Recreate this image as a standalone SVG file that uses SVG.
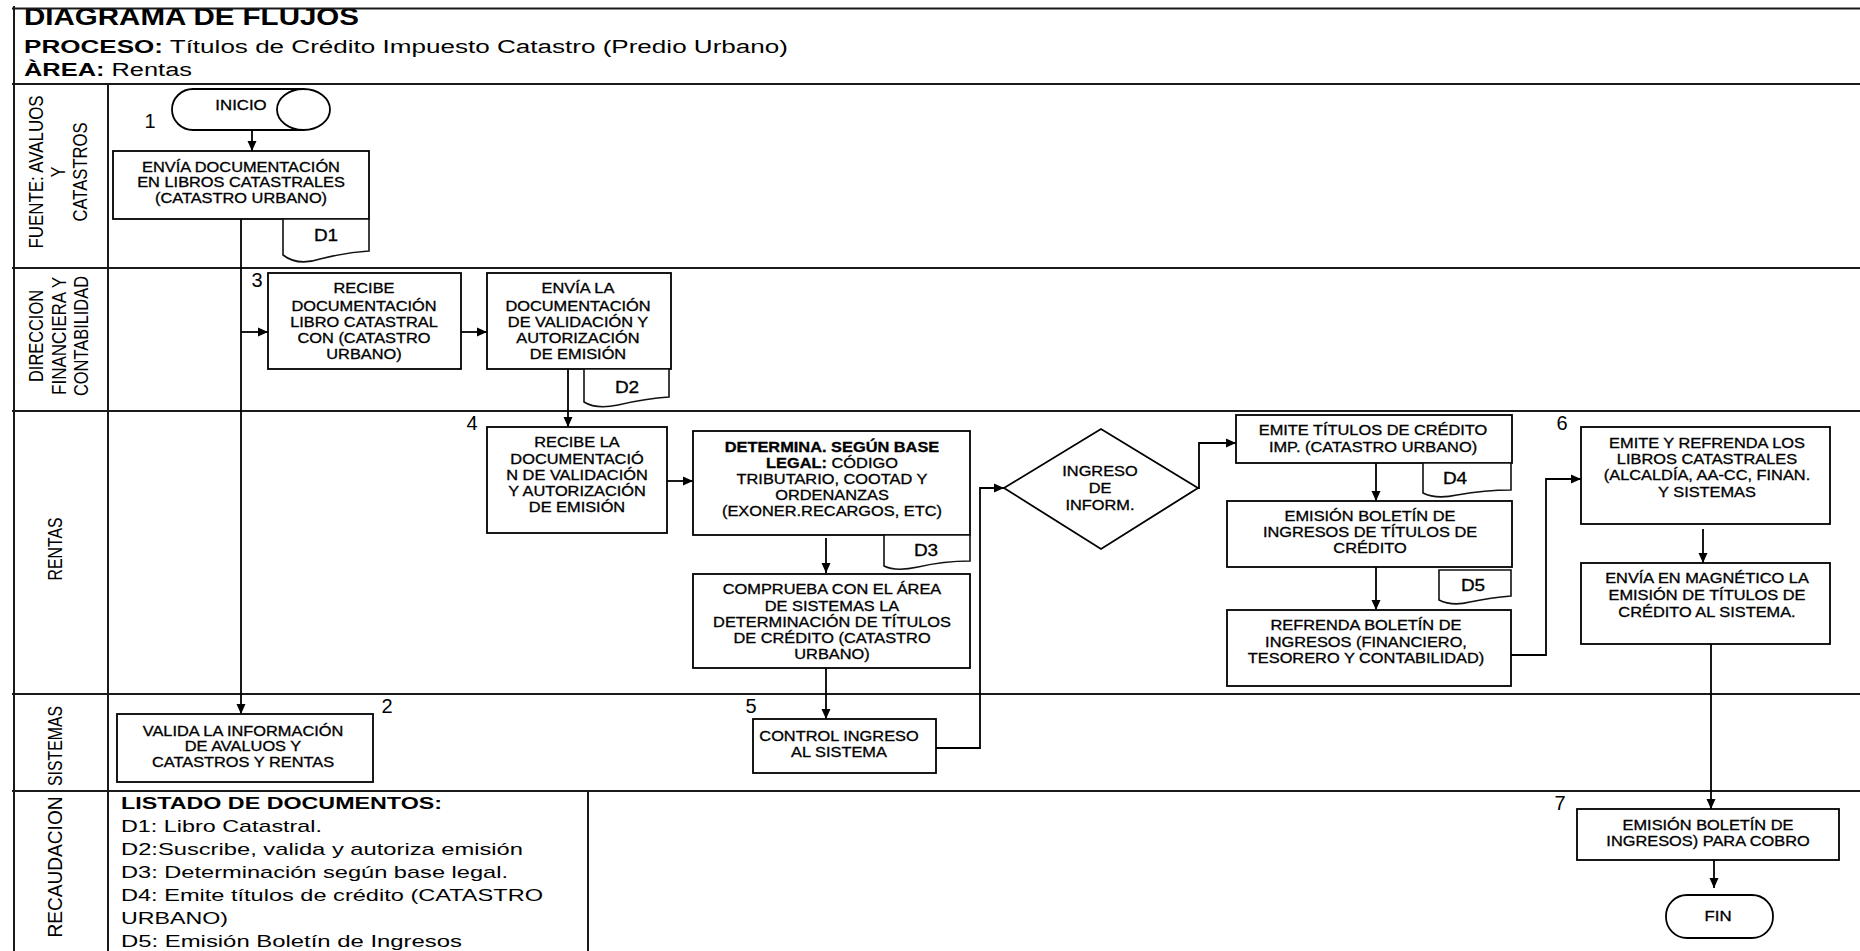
<svg xmlns="http://www.w3.org/2000/svg" width="1860" height="951" viewBox="0 0 1860 951">
  <defs>
    <style>
      text { font-family: "Liberation Sans", Arial, sans-serif; fill: #000; }
      .frame { stroke: #1a1a1a; stroke-width: 2; fill: none; }
      .box { fill: #fff; stroke: #000; stroke-width: 1.8; }
      .doc { fill: #fff; stroke: #111; stroke-width: 1.6; }
      .lbl { font-size: 14px; text-anchor: middle; stroke: #000; stroke-width: 0.3; }
      .dl { font-size: 16.5px; text-anchor: middle; stroke: #000; stroke-width: 0.3; }
      .num { font-size: 20px; text-anchor: middle; }
      .lane { font-size: 16px; text-anchor: middle; }
      .head { font-size: 18px; }
      .list { font-size: 17px; }
      .conn { fill: none; stroke: #000; stroke-width: 1.8; marker-end: url(#ah); }
      .b { font-weight: bold; }
    </style>
    <marker id="ah" markerUnits="userSpaceOnUse" markerWidth="11" markerHeight="10" refX="10" refY="5" orient="auto">
      <path d="M0,0.5 L10,5 L0,9.5 Z" fill="#000"/>
    </marker>
  </defs>

  <rect width="1860" height="951" fill="#fff"/>

  <!-- header -->
  <g id="header">
    <text x="24" y="24.5" font-size="23" font-weight="bold" textLength="335" lengthAdjust="spacingAndGlyphs">DIAGRAMA DE FLUJOS</text>
    <text class="head" x="24" y="53" textLength="764" lengthAdjust="spacingAndGlyphs"><tspan class="b">PROCESO:</tspan> Títulos  de Crédito Impuesto Catastro (Predio Urbano)</text>
    <text class="head" x="24" y="76" textLength="168" lengthAdjust="spacingAndGlyphs"><tspan class="b">ÀREA:</tspan> Rentas</text>
  </g>

  <!-- swimlane frame -->
  <g id="frame">
    <line class="frame" x1="12" y1="8.5" x2="1860" y2="8.5" stroke-width="5"/>
    <line class="frame" x1="14" y1="6" x2="14" y2="951" stroke-width="4"/>
    <line class="frame" x1="12" y1="84" x2="1860" y2="84"/>
    <line class="frame" x1="12" y1="268" x2="1860" y2="268"/>
    <line class="frame" x1="12" y1="411" x2="1860" y2="411"/>
    <line class="frame" x1="12" y1="694" x2="1860" y2="694"/>
    <line class="frame" x1="12" y1="791" x2="1860" y2="791"/>
    <line class="frame" x1="108" y1="84" x2="108" y2="951"/>
    <line class="frame" x1="588" y1="791" x2="588" y2="951"/>
  </g>

  <!-- lane titles -->
  <g id="lanes">
    <g transform="translate(43 172) rotate(-90) scale(1 1.27)"><text class="lane" textLength="153" lengthAdjust="spacingAndGlyphs">FUENTE: AVALUOS</text></g>
    <g transform="translate(65 172) rotate(-90) scale(1 1.27)"><text class="lane">Y</text></g>
    <g transform="translate(87 172) rotate(-90) scale(1 1.27)"><text class="lane" textLength="99" lengthAdjust="spacingAndGlyphs">CATASTROS</text></g>
    <g transform="translate(43 336) rotate(-90) scale(1 1.27)"><text class="lane" textLength="92" lengthAdjust="spacingAndGlyphs">DIRECCION</text></g>
    <g transform="translate(66 336) rotate(-90) scale(1 1.27)"><text class="lane" textLength="118" lengthAdjust="spacingAndGlyphs">FINANCIERA Y</text></g>
    <g transform="translate(88 336) rotate(-90) scale(1 1.27)"><text class="lane" textLength="120" lengthAdjust="spacingAndGlyphs">CONTABILIDAD</text></g>
    <g transform="translate(62 549) rotate(-90) scale(1 1.27)"><text class="lane" textLength="63" lengthAdjust="spacingAndGlyphs">RENTAS</text></g>
    <g transform="translate(62 746) rotate(-90) scale(1 1.27)"><text class="lane" textLength="80" lengthAdjust="spacingAndGlyphs">SISTEMAS</text></g>
    <g transform="translate(62 867) rotate(-90) scale(1 1.27)"><text class="lane" textLength="141" lengthAdjust="spacingAndGlyphs">RECAUDACION</text></g>
  </g>

  <!-- connectors -->
  <g id="connectors">
    <path class="conn" d="M252,130 V151"/>
    <path class="conn" d="M241,219 V714"/>
    <path class="conn" d="M241,332 H268"/>
    <path class="conn" d="M461,332 H487"/>
    <path class="conn" d="M568,369 V427"/>
    <path class="conn" d="M667,481 H693"/>
    <path class="conn" d="M826,538 V573"/>
    <path class="conn" d="M826,668 V719"/>
    <path class="conn" d="M936,748 H980 V488 H1004"/>
    <path class="conn" d="M1198,488 H1199 V443 H1236"/>
    <path class="conn" d="M1376,463 V501"/>
    <path class="conn" d="M1376,567 V610"/>
    <path class="conn" d="M1511,655 H1546 V479 H1581"/>
    <path class="conn" d="M1703,529 V563"/>
    <path class="conn" d="M1711,644 V809"/>
    <path class="conn" d="M1714,860 V888"/>
  </g>

  <!-- step numbers -->
  <g id="numbers">
    <text class="num" x="150" y="128">1</text>
    <text class="num" x="387" y="713">2</text>
    <text class="num" x="257" y="287">3</text>
    <text class="num" x="472" y="430">4</text>
    <text class="num" x="751" y="713">5</text>
    <text class="num" x="1562" y="430">6</text>
    <text class="num" x="1560" y="810">7</text>
  </g>

  <!-- start terminator -->
  <g id="inicio">
    <path class="box" d="M303.5,89 H193 A21,20.5 0 0 0 193,130 H303.5"/>
    <ellipse class="box" cx="303.5" cy="109.5" rx="26.5" ry="20.5"/>
    <g transform="translate(241 0) scale(1.2 1)"><text class="lbl" y="110" font-size="16.5">INICIO</text></g>
  </g>

  <g id="envia-doc">
    <rect class="box" x="113" y="151" width="256" height="68"/>
    <path class="doc" d="M283,219 V255 C292,262 305,264 320,259 C335,255 352,252 369,251 V219 Z"/>
    <g transform="translate(326 0) scale(1.15 1)"><text class="dl" y="241">D1</text></g>
    <g transform="translate(241 0) scale(1.17 1)">
      <text class="lbl" y="172">ENVÍA DOCUMENTACIÓN</text>
      <text class="lbl" y="187.5">EN LIBROS CATASTRALES</text>
      <text class="lbl" y="203">(CATASTRO URBANO)</text>
    </g>
  </g>

  <g id="valida">
    <rect class="box" x="117" y="714" width="256" height="68"/>
    <g transform="translate(243 0) scale(1.17 1)">
      <text class="lbl" y="736">VALIDA LA INFORMACIÓN</text>
      <text class="lbl" y="751.5">DE AVALUOS  Y</text>
      <text class="lbl" y="767">CATASTROS Y RENTAS</text>
    </g>
  </g>

  <g id="recibe-doc">
    <rect class="box" x="268" y="273" width="193" height="96"/>
    <g transform="translate(364 0) scale(1.17 1)">
      <text class="lbl" y="293">RECIBE</text>
      <text class="lbl" y="311">DOCUMENTACIÓN</text>
      <text class="lbl" y="327.5">LIBRO CATASTRAL</text>
      <text class="lbl" y="343">CON  (CATASTRO</text>
      <text class="lbl" y="359">URBANO)</text>
    </g>
  </g>

  <g id="envia-validacion">
    <rect class="box" x="487" y="273" width="184" height="96"/>
    <path class="doc" d="M584,369 V402 C592,407 604,408 618,405 C635,401 652,398 669,397 V369 Z"/>
    <g transform="translate(627 0) scale(1.15 1)"><text class="dl" y="393">D2</text></g>
    <g transform="translate(578 0) scale(1.17 1)">
      <text class="lbl" y="293">ENVÍA LA</text>
      <text class="lbl" y="311">DOCUMENTACIÓN</text>
      <text class="lbl" y="327">DE VALIDACIÓN Y</text>
      <text class="lbl" y="343">AUTORIZACIÓN</text>
      <text class="lbl" y="359">DE EMISIÓN</text>
    </g>
  </g>

  <g id="recibe-validacion">
    <rect class="box" x="487" y="427" width="180" height="106"/>
    <g transform="translate(577 0) scale(1.17 1)">
      <text class="lbl" y="447">RECIBE LA</text>
      <text class="lbl" y="464">DOCUMENTACIÓ</text>
      <text class="lbl" y="480">N DE VALIDACIÓN</text>
      <text class="lbl" y="496">Y AUTORIZACIÓN</text>
      <text class="lbl" y="512">DE EMISIÓN</text>
    </g>
  </g>

  <g id="determina">
    <rect class="box" x="693" y="431" width="277" height="104"/>
    <path class="doc" d="M884,535 V566 C892,570 904,570 918,567 C935,563 952,561 970,561 V535 Z"/>
    <g transform="translate(926 0) scale(1.15 1)"><text class="dl" y="556">D3</text></g>
    <g transform="translate(832 0) scale(1.17 1)">
      <text class="lbl b" y="452">DETERMINA. SEGÚN BASE</text>
      <text class="lbl" y="468"><tspan class="b">LEGAL:</tspan> CÓDIGO</text>
      <text class="lbl" y="484">TRIBUTARIO, COOTAD Y</text>
      <text class="lbl" y="500">ORDENANZAS</text>
      <text class="lbl" y="516">(EXONER.RECARGOS, ETC)</text>
    </g>
  </g>

  <g id="comprueba">
    <rect class="box" x="693" y="574" width="277" height="94"/>
    <g transform="translate(832 0) scale(1.17 1)">
      <text class="lbl" y="594">COMPRUEBA CON EL ÁREA</text>
      <text class="lbl" y="611">DE SISTEMAS LA</text>
      <text class="lbl" y="627">DETERMINACIÓN DE TÍTULOS</text>
      <text class="lbl" y="643">DE CRÉDITO (CATASTRO</text>
      <text class="lbl" y="659">URBANO)</text>
    </g>
  </g>

  <g id="control">
    <rect class="box" x="753" y="719" width="183" height="54"/>
    <g transform="translate(839 0) scale(1.17 1)">
      <text class="lbl" y="741">CONTROL INGRESO</text>
      <text class="lbl" y="757">AL SISTEMA</text>
    </g>
  </g>

  <g id="ingreso-decision">
    <polygon class="box" points="1004,488 1101,429 1198,488 1101,549"/>
    <g transform="translate(1100 0) scale(1.17 1)">
      <text class="lbl" y="476">INGRESO</text>
      <text class="lbl" y="493">DE</text>
      <text class="lbl" y="510">INFORM.</text>
    </g>
  </g>

  <g id="emite-titulos">
    <rect class="box" x="1236" y="415" width="276" height="48"/>
    <path class="doc" d="M1423,463 V493 C1431,497 1443,498 1457,495 C1474,492 1492,490 1511,490 V463 Z"/>
    <g transform="translate(1455 0) scale(1.15 1)"><text class="dl" y="484">D4</text></g>
    <g transform="translate(1373 0) scale(1.17 1)">
      <text class="lbl" y="435">EMITE TÍTULOS DE CRÉDITO</text>
      <text class="lbl" y="452">IMP. (CATASTRO URBANO)</text>
    </g>
  </g>

  <g id="emision-boletin">
    <rect class="box" x="1227" y="501" width="285" height="66"/>
    <path class="doc" d="M1439,570 V600 C1447,604 1458,605 1470,602 C1484,599 1497,597 1511,596 V570 Z"/>
    <g transform="translate(1473 0) scale(1.15 1)"><text class="dl" y="591">D5</text></g>
    <g transform="translate(1370 0) scale(1.17 1)">
      <text class="lbl" y="521">EMISIÓN BOLETÍN  DE</text>
      <text class="lbl" y="537">INGRESOS DE TÍTULOS DE</text>
      <text class="lbl" y="553">CRÉDITO</text>
    </g>
  </g>

  <g id="refrenda-boletin">
    <rect class="box" x="1227" y="610" width="284" height="76"/>
    <g transform="translate(1366 0) scale(1.17 1)">
      <text class="lbl" y="630">REFRENDA BOLETÍN DE</text>
      <text class="lbl" y="647">INGRESOS (FINANCIERO,</text>
      <text class="lbl" y="663">TESORERO Y CONTABILIDAD)</text>
    </g>
  </g>

  <g id="emite-refrenda">
    <rect class="box" x="1581" y="427" width="249" height="97"/>
    <g transform="translate(1707 0) scale(1.17 1)">
      <text class="lbl" y="448">EMITE Y REFRENDA LOS</text>
      <text class="lbl" y="464">LIBROS  CATASTRALES</text>
      <text class="lbl" y="480">(ALCALDÍA, AA-CC, FINAN.</text>
      <text class="lbl" y="497">Y SISTEMAS</text>
    </g>
  </g>

  <g id="envia-magnetico">
    <rect class="box" x="1581" y="563" width="249" height="81"/>
    <g transform="translate(1707 0) scale(1.17 1)">
      <text class="lbl" y="583">ENVÍA EN MAGNÉTICO LA</text>
      <text class="lbl" y="600">EMISIÓN DE TÍTULOS DE</text>
      <text class="lbl" y="617">CRÉDITO AL SISTEMA.</text>
    </g>
  </g>

  <g id="emision-cobro">
    <rect class="box" x="1577" y="809" width="262" height="51"/>
    <g transform="translate(1708 0) scale(1.17 1)">
      <text class="lbl" y="830">EMISIÓN BOLETÍN  DE</text>
      <text class="lbl" y="846">INGRESOS) PARA COBRO</text>
    </g>
  </g>

  <g id="fin">
    <rect class="box" x="1666" y="895" width="107" height="43" rx="21" ry="21"/>
    <g transform="translate(1718 0) scale(1.2 1)"><text class="lbl" y="921" font-size="16">FIN</text></g>
  </g>

  <!-- document list -->
  <g id="listado">
    <text class="list b" x="121" y="809" textLength="321" lengthAdjust="spacingAndGlyphs">LISTADO DE DOCUMENTOS:</text>
    <text class="list" x="121" y="832" textLength="201" lengthAdjust="spacingAndGlyphs">D1: Libro Catastral.</text>
    <text class="list" x="121" y="855" textLength="402" lengthAdjust="spacingAndGlyphs">D2:Suscribe, valida y autoriza emisión</text>
    <text class="list" x="121" y="878" textLength="387" lengthAdjust="spacingAndGlyphs">D3: Determinación según base legal.</text>
    <text class="list" x="121" y="901" textLength="422" lengthAdjust="spacingAndGlyphs">D4: Emite títulos de crédito (CATASTRO</text>
    <text class="list" x="121" y="924" textLength="107" lengthAdjust="spacingAndGlyphs">URBANO)</text>
    <text class="list" x="121" y="947" textLength="341" lengthAdjust="spacingAndGlyphs">D5: Emisión Boletín de Ingresos</text>
  </g>
</svg>
